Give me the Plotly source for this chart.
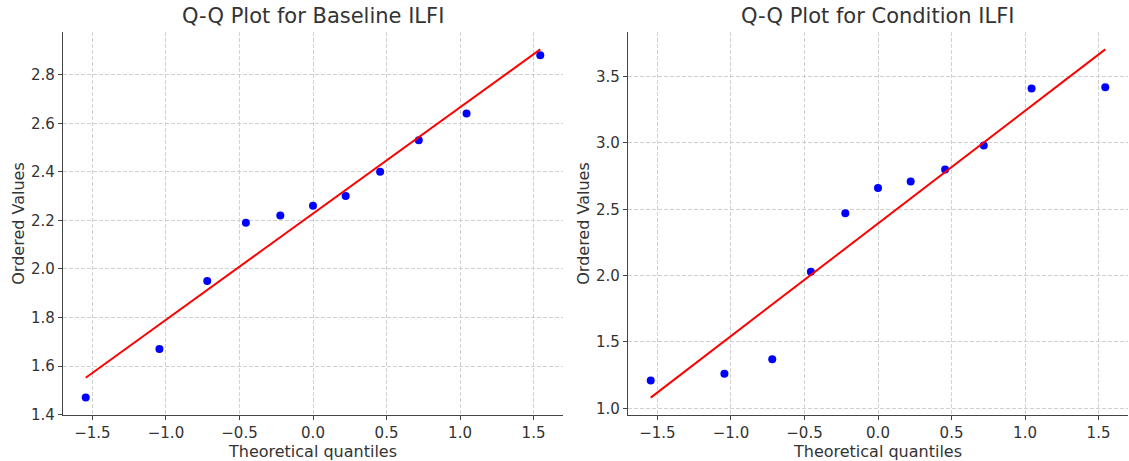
import numpy as np
import plotly.graph_objects as go

# Theoretical normal quantiles (n = 11)
theoretical_quantiles = [-1.5458, -1.0446, -0.7194, -0.4565, -0.2223, 0.0,
                         0.2223, 0.4565, 0.7194, 1.0446, 1.5458]
baseline_values = [1.47, 1.67, 1.95, 2.19, 2.22, 2.26, 2.30, 2.40, 2.53, 2.64, 2.88]
condition_values = [1.21, 1.26, 1.37, 2.03, 2.47, 2.66, 2.71, 2.80, 2.98, 3.41, 3.42]
titles = ["Q-Q Plot for Baseline ILFI", "Q-Q Plot for Condition ILFI"]

W, H = 1129, 461
TEXT = "#333333"
FONT = "DejaVu Sans"

fig = go.Figure()
domains = [(63 / W, 563 / W), (628 / W, 1128 / W)]
series = [baseline_values, condition_values]

x = np.array(theoretical_quantiles)
for i, (vals, title, dom) in enumerate(zip(series, titles, domains)):
    y = np.array(vals)
    slope, intercept = np.polyfit(x, y, 1)
    line_x = np.array([x.min(), x.max()])
    line_y = slope * line_x + intercept
    ax = "" if i == 0 else str(i + 1)
    fig.add_trace(go.Scatter(x=x, y=y, mode="markers",
                             marker=dict(color="#0000ff", size=8),
                             xaxis="x" + ax, yaxis="y" + ax, showlegend=False))
    fig.add_trace(go.Scatter(x=line_x, y=line_y, mode="lines",
                             line=dict(color="#ff0000", width=2),
                             xaxis="x" + ax, yaxis="y" + ax, showlegend=False))
    # matplotlib-style 5% margins
    ymin = min(y.min(), line_y.min()); ymax = max(y.max(), line_y.max())
    ym = 0.05 * (ymax - ymin)
    xm = 0.05 * (x.max() - x.min())
    common = dict(showline=True, linecolor="#444444", linewidth=1.2,
                  ticks="outside", ticklen=4, tickcolor="#444444",
                  showgrid=True, gridcolor="#d0d0d0", gridwidth=0.8, griddash="4px,2px",
                  zeroline=False, mirror=False,
                  tickfont=dict(family=FONT, size=15, color=TEXT), automargin=False)
    fig.layout["xaxis" + ax] = dict(common, domain=list(dom), anchor="y" + ax,
                                    range=[x.min() - xm, x.max() + xm], dtick=0.5,
                                    tickformat=".1f",
                                    title=dict(text="Theoretical quantiles", standoff=4,
                                               font=dict(family=FONT, size=16, color=TEXT)))
    fig.layout["yaxis" + ax] = dict(common, domain=[0, 1], anchor="x" + ax,
                                    range=[ymin - ym, ymax + ym],
                                    dtick=0.2 if i == 0 else 0.5, tickformat=".1f",
                                    title=dict(text="Ordered Values", standoff=2,
                                               font=dict(family=FONT, size=16, color=TEXT)))
    fig.add_annotation(text=title, x=(dom[0] + dom[1]) / 2, y=1, xref="paper", yref="paper",
                       xanchor="center", yanchor="bottom", yshift=2, showarrow=False,
                       font=dict(family=FONT, size=21, color=TEXT))

fig.update_layout(width=W, height=H, margin=dict(l=0, r=0, t=32, b=46),
                  paper_bgcolor="white", plot_bgcolor="white",
                  font=dict(family=FONT, color=TEXT))
fig.write_html("out.html")
